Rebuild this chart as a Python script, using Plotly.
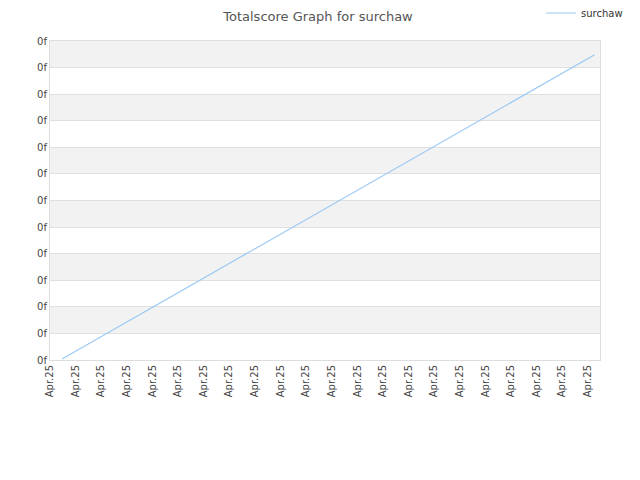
import plotly.graph_objects as go

# Data
series_name = "surchaw"
x_values = [0.47, 21.27]
y_values = [0.04, 11.48]
x_tick_positions = list(range(22))
x_tick_labels = ["Apr.25"] * 22
y_tick_positions = list(range(13))
y_tick_labels = ["0f"] * 13

W, H = 632, 472

fig = go.Figure()
fig.add_trace(go.Scatter(
    x=x_values, y=y_values, mode="lines", name=series_name,
    line=dict(color="#99c9f5", width=1.2),
))

shapes = []
for i in range(12):
    if i % 2 == 1:
        shapes.append(dict(type="rect", xref="paper", yref="y", x0=0, x1=1,
                           y0=i, y1=i + 1, fillcolor="#f2f2f2",
                           line=dict(width=0), layer="below"))

fig.update_layout(
    width=W, height=H,
    margin=dict(l=42, r=40, t=33, b=120, autoexpand=False),
    paper_bgcolor="white", plot_bgcolor="white",
    font=dict(family="DejaVu Sans", size=10, color="#444444"),
    title=dict(text="Totalscore Graph for surchaw", x=310 / W, xanchor="center",
               xref="container", yref="container",
               y=1 - 8 / H, yanchor="middle",
               font=dict(family="DejaVu Sans", size=13, color="#555555")),
    showlegend=True,
    legend=dict(x=533 / W, y=1 - 5 / H, xanchor="left", yanchor="middle",
                xref="container", yref="container",
                font=dict(size=10, color="#333333"), bgcolor="rgba(0,0,0,0)",
                itemwidth=30),
    shapes=shapes,
    xaxis=dict(range=[0, 21.48], tickvals=x_tick_positions, ticktext=x_tick_labels,
               tickangle=-90, showgrid=False, zeroline=False, automargin=False,
               showline=True, linecolor="#dddddd", mirror=True, ticks="",
               tickfont=dict(size=10, color="#444444")),
    yaxis=dict(range=[0, 12], tickvals=y_tick_positions, ticktext=y_tick_labels,
               showgrid=True, gridcolor="#e0e0e0", zeroline=False, automargin=False,
               showline=True, linecolor="#dddddd", mirror=True, ticks="",
               tickfont=dict(size=10, color="#444444")),
)

fig.write_html("out.html")
